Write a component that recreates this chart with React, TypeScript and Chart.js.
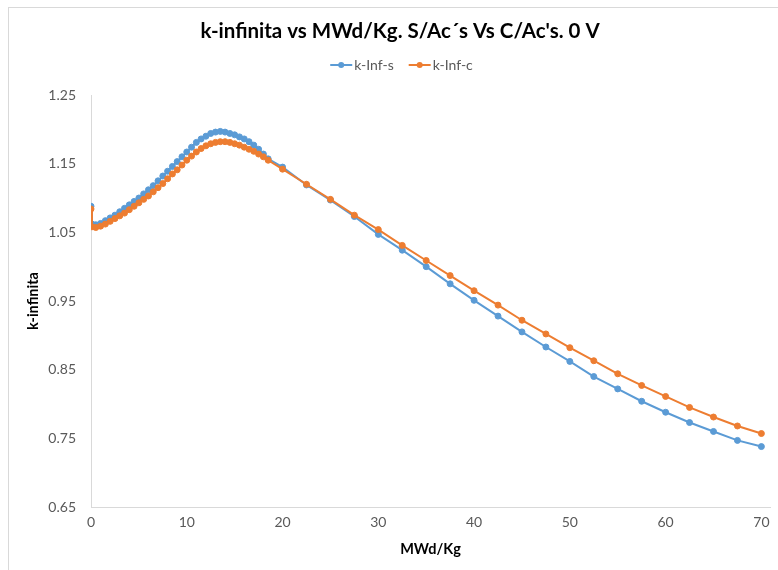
import React, { useEffect, useRef } from 'react';
import { Chart, registerables } from 'chart.js';

Chart.register(...registerables);

const FONT = "Lato, 'Open Sans', sans-serif";

const burnup = [
  0, 0.1, 0.5, 1, 1.5, 2, 2.5, 3, 3.5, 4, 4.5, 5, 5.5, 6, 6.5, 7, 7.5, 8, 8.5, 9, 9.5,
  10, 10.5, 11, 11.5, 12, 12.5, 13, 13.5, 14, 14.5, 15, 15.5, 16, 16.5, 17, 17.5, 18, 18.5,
  20, 22.5, 25, 27.5, 30, 32.5, 35, 37.5, 40, 42.5, 45, 47.5, 50, 52.5, 55, 57.5, 60, 62.5,
  65, 67.5, 70,
];

const kInfS = [
  1.088, 1.062, 1.061, 1.063, 1.067, 1.071, 1.075, 1.080, 1.085, 1.090, 1.095, 1.100, 1.106,
  1.112, 1.118, 1.125, 1.132, 1.139, 1.146, 1.153, 1.160, 1.167, 1.174, 1.181, 1.186, 1.190,
  1.194, 1.196, 1.197, 1.196, 1.194, 1.192, 1.189, 1.186, 1.182, 1.177, 1.171, 1.164, 1.157,
  1.145, 1.119, 1.097, 1.073, 1.047, 1.024, 1.000, 0.975, 0.951, 0.928, 0.905, 0.883, 0.862,
  0.840, 0.822, 0.804, 0.788, 0.773, 0.760, 0.747, 0.738,
];

const kInfC = [
  1.084, 1.058, 1.057, 1.059, 1.062, 1.066, 1.070, 1.074, 1.078, 1.083, 1.088, 1.093, 1.098,
  1.103, 1.109, 1.115, 1.121, 1.128, 1.135, 1.141, 1.148, 1.155, 1.161, 1.167, 1.172, 1.176,
  1.179, 1.181, 1.182, 1.182, 1.181, 1.179, 1.177, 1.174, 1.171, 1.168, 1.164, 1.160, 1.155,
  1.142, 1.120, 1.098, 1.075, 1.054, 1.031, 1.009, 0.987, 0.965, 0.944, 0.922, 0.902, 0.882,
  0.863, 0.844, 0.827, 0.811, 0.795, 0.781, 0.768, 0.757,
];

const seriesLabels = ['k-Inf-s', 'k-Inf-c'];
const xTicks = [0, 10, 20, 30, 40, 50, 60, 70];
const yTicks = [0.65, 0.75, 0.85, 0.95, 1.05, 1.15, 1.25];
const titleText = "k-infinita vs MWd/Kg. S/Ac\u00B4s Vs C/Ac's. 0 V";
const xTitle = 'MWd/Kg';
const yTitle = 'k-infinita';

const BLUE = '#5B9BD5';
const ORANGE = '#ED7D31';

const legendPlugin = {
  id: 'excelLegend',
  afterDraw(chart: any) {
    const ctx = chart.ctx as CanvasRenderingContext2D;
    const items = chart.data.datasets.map((d: any) => ({ label: d.label, color: d.borderColor }));
    ctx.save();
    ctx.font = `14px ${FONT}`;
    const markerW = 22;
    const gap = 2;
    const sep = 15;
    const widths = items.map((it: any) => markerW + gap + ctx.measureText(it.label).width);
    const total = widths.reduce((a: number, b: number) => a + b, 0) + sep * (items.length - 1);
    let x = chart.width / 2 + 1.5 - total / 2;
    const y = 65;
    items.forEach((it: any, i: number) => {
      ctx.strokeStyle = it.color;
      ctx.lineWidth = 2;
      ctx.beginPath();
      ctx.moveTo(x, y);
      ctx.lineTo(x + markerW, y);
      ctx.stroke();
      ctx.fillStyle = it.color;
      ctx.beginPath();
      ctx.arc(x + markerW / 2, y, 3, 0, Math.PI * 2);
      ctx.fill();
      ctx.fillStyle = '#595959';
      ctx.textBaseline = 'middle';
      ctx.textAlign = 'left';
      ctx.fillText(it.label, x + markerW + gap, y);
      x += widths[i] + sep;
    });
    ctx.restore();
  },
};

export default function App() {
  const ref = useRef<HTMLCanvasElement | null>(null);

  useEffect(() => {
    if (!ref.current) return;
    Chart.defaults.font.family = FONT;
    const chart = new Chart(ref.current, {
      type: 'line',
      data: {
        datasets: [
          {
            label: seriesLabels[0],
            data: burnup.map((b, i) => ({ x: b, y: kInfS[i] })),
            borderColor: BLUE,
            backgroundColor: BLUE,
            borderWidth: 2,
            pointRadius: 3,
            pointBorderWidth: 1,
            pointBackgroundColor: BLUE,
            pointBorderColor: BLUE,
            order: 1,
            tension: 0,
          },
          {
            label: seriesLabels[1],
            data: burnup.map((b, i) => ({ x: b, y: kInfC[i] })),
            borderColor: ORANGE,
            backgroundColor: ORANGE,
            borderWidth: 2,
            pointRadius: 3,
            pointBorderWidth: 1,
            pointBackgroundColor: ORANGE,
            pointBorderColor: ORANGE,
            order: 0,
            tension: 0,
          },
        ],
      },
      options: {
        responsive: false,
        animation: false,
        layout: { padding: { left: 30, right: 30, top: 0, bottom: 0 } },
        plugins: {
          legend: { display: false },
          tooltip: { enabled: false },
          title: {
            display: true,
            text: titleText,
            color: '#000000',
            font: { family: FONT, size: 20.5, weight: 'bold' },
            padding: { top: 19.4, bottom: 51 },
          },
        },
        scales: {
          x: {
            type: 'linear',
            min: 0,
            max: 70.9,
            afterBuildTicks: (s: any) => {
              s.ticks = xTicks.map((v) => ({ value: v }));
            },
            afterFit: (s: any) => {
              s.height = 63;
            },
            ticks: {
              color: '#595959',
              font: { family: FONT, size: 14 },
              padding: 7,
              maxRotation: 0,
              autoSkip: false,
            },
            grid: { display: false, drawTicks: false, tickLength: 0 },
            border: { display: true, color: '#d9d9d9', width: 1 },
            title: {
              display: true,
              text: xTitle,
              color: '#000000',
              font: { family: FONT, size: 14.5, weight: 'bold' },
              padding: 12.3,
            },
          },
          y: {
            type: 'linear',
            min: 0.65,
            max: 1.25,
            afterBuildTicks: (s: any) => {
              s.ticks = yTicks.map((v) => ({ value: v }));
            },
            afterFit: (s: any) => {
              s.width = 61;
            },
            ticks: {
              color: '#595959',
              font: { family: FONT, size: 14 },
              padding: 15,
              callback: (v: any) => Number(v).toFixed(2),
            },
            grid: { display: false, drawTicks: false, tickLength: 0 },
            border: { display: true, color: '#d9d9d9', width: 1 },
            title: {
              display: true,
              text: yTitle,
              color: '#000000',
              font: { family: FONT, size: 14.5, weight: 'bold' },
              padding: -5.7,
            },
          },
        },
      },
      plugins: [legendPlugin],
    });
    return () => chart.destroy();
  }, []);

  return (
    <div
      style={{
        position: 'absolute',
        left: 0,
        top: 0,
        width: 778,
        height: 570,
        overflow: 'hidden',
        background: '#ffffff',
      }}
    >
      <canvas ref={ref} width={800} height={570} style={{ display: 'block' }} />
      <div
        style={{
          position: 'absolute',
          left: 8,
          top: 7,
          width: 770,
          height: 563,
          borderLeft: '1px solid #d9d9d9',
          borderTop: '1px solid #d9d9d9',
          boxSizing: 'border-box',
          pointerEvents: 'none',
        }}
      />
    </div>
  );
}
